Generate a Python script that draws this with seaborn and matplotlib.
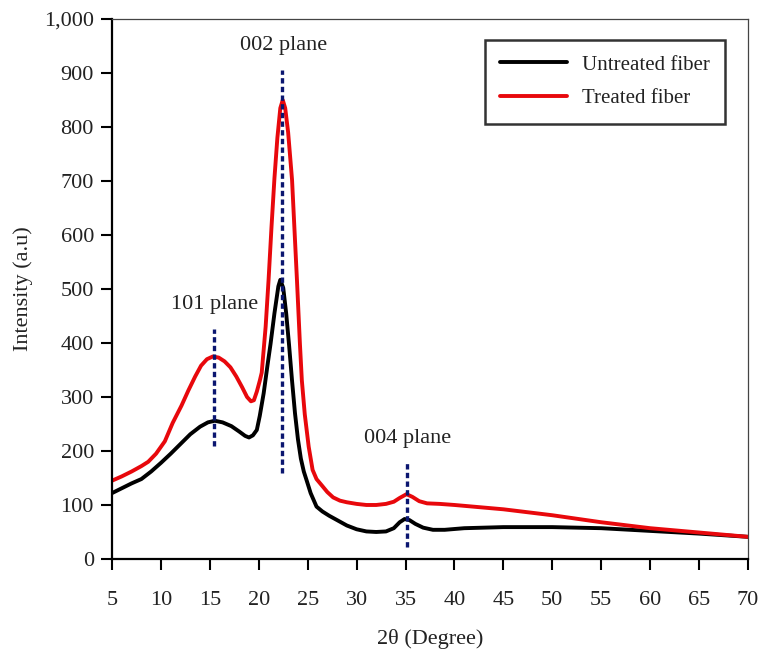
import numpy as np
import seaborn as sns
import matplotlib.pyplot as plt
from matplotlib.ticker import FuncFormatter, MultipleLocator

# Untreated fiber (black)
untreated_x = [5, 6, 7, 8, 9, 10, 11, 12, 13, 14, 14.8, 15.5, 16.3, 17.2, 18, 18.6, 19, 19.4, 19.8,
               20.1, 20.5, 20.9, 21.2, 21.6, 22, 22.2, 22.5, 22.8, 23.1, 23.4, 23.7, 24, 24.3, 24.6,
               24.9, 25.3, 25.9, 26.5, 27.2, 28, 29, 30, 31, 32, 33, 33.8, 34.4, 34.9, 35.4, 36,
               36.8, 37.8, 39, 41, 45, 50, 55, 60, 65, 70]
untreated_y = [122, 131, 140, 148, 162, 178, 195, 213, 231, 245, 253, 256, 253, 246, 236, 228, 225, 229, 239,
               265, 307, 360, 398, 455, 505, 517, 502, 455, 395, 330, 270, 222, 186, 162,
               145, 122, 97, 88, 80, 72, 62, 55, 51, 50, 51, 57, 68, 74, 72, 65,
               58, 54, 54, 57, 59, 59, 57, 52, 47, 41]

# Treated fiber (red)
treated_x = [5, 6, 7, 8, 8.7, 9.5, 10.4, 11.2, 12.1, 12.8, 13.5, 14.1, 14.7, 15.3, 15.9, 16.5, 17.1,
             17.7, 18.3, 18.8, 19.2, 19.5, 19.8, 20.1, 20.3, 20.7, 21, 21.3, 21.6, 21.9, 22.2, 22.45,
             22.7, 23, 23.4, 23.9, 24.2, 24.4, 24.7, 25.1, 25.5, 25.9, 26.5, 27, 27.6, 28.3, 29, 30,
             31, 32, 33, 33.8, 34.4, 35.1, 35.7, 36.4, 37.2, 38.5, 40, 42.5, 45, 50, 55, 60, 65, 70]
treated_y = [145, 153, 162, 172, 180, 195, 218, 252, 284, 312, 338, 358, 370, 375, 373, 366, 355,
             338, 318, 300, 292, 294, 310, 330, 345, 430, 517, 615, 705, 780, 835, 850,
             835, 790, 702, 517, 400, 331, 268, 208, 165, 148, 135, 124, 114, 108, 105, 102,
             100, 100, 102, 106, 113, 120, 115, 107, 103, 102, 100, 96, 92, 81, 68, 57, 49, 41]

# crystal planes (dashed markers)
plane_names = ["101 plane", "002 plane", "004 plane"]
plane_pos = [15.4, 22.4, 35.1]
plane_lo = [210, 160, 22]
plane_hi = [425, 905, 178]

sns.set_style("ticks")
plt.rcParams['font.family'] = ['Liberation Serif', 'DejaVu Serif']
plt.rcParams['font.size'] = 16

fig = plt.figure(figsize=(7.6, 6.54), dpi=100)
ax = fig.add_axes([0.1474, 0.1453, 0.8368, 0.8256])

sns.lineplot(x=untreated_x, y=untreated_y, color="black", lw=2.8, label="Untreated fiber",
             solid_joinstyle="round", ax=ax)
sns.lineplot(x=treated_x, y=treated_y, color="#e8080c", lw=2.8, label="Treated fiber",
             solid_joinstyle="round", ax=ax)

ax.vlines(plane_pos, plane_lo, plane_hi, colors="#0b1670", lw=2.4, linestyles=[(0, (1.6, 1.0))], zorder=5)
for name, xp, top in zip(plane_names, plane_pos, plane_hi):
    ax.text(xp + 0.1, top + 46, name, ha="center", va="center", fontsize=16, color="#222222")

ax.set_xlim(5, 70)
ax.set_ylim(0, 1000)
ax.xaxis.set_major_locator(MultipleLocator(5))
ax.yaxis.set_major_locator(MultipleLocator(100))
ax.yaxis.set_major_formatter(FuncFormatter(lambda v, p: f"{int(v):,}"))
ax.tick_params(axis="both", labelsize=16, length=8, width=1.5, colors="black", labelcolor="#222222")
ax.tick_params(axis="x", pad=15)
ax.tick_params(axis="y", pad=5)

for side in ["left", "bottom"]:
    ax.spines[side].set_linewidth(1.6)
    ax.spines[side].set_color("black")
for side in ["top", "right"]:
    ax.spines[side].set_visible(True)
    ax.spines[side].set_linewidth(0.9)
    ax.spines[side].set_color("#444444")

ax.set_xlabel("2θ (Degree)", fontsize=16, color="#222222", labelpad=14)
ax.set_ylabel("Intensity (a.u)", fontsize=16, color="#222222", labelpad=8)

leg = ax.legend(loc="upper right", bbox_to_anchor=(0.964, 0.962), frameon=True, fancybox=False,
                fontsize=15, handlelength=3.2, handletextpad=0.7, labelspacing=0.65,
                borderpad=0.75, borderaxespad=0)
leg.get_frame().set_edgecolor("black")
leg.get_frame().set_linewidth(1.8)
for t in leg.get_texts():
    t.set_color("#222222")

fig.savefig("out.png", dpi=100)
